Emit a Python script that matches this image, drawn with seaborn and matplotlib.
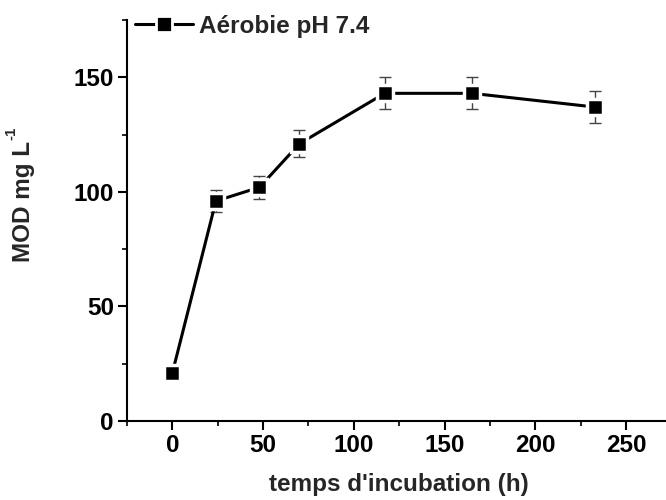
import matplotlib
matplotlib.use("Agg")
import matplotlib.pyplot as plt
import seaborn as sns
import pandas as pd
from matplotlib.ticker import MultipleLocator
from matplotlib.lines import Line2D

# Incubation time (h), DOM concentration (mg/L) and standard deviation
temps = [0, 24, 48, 70, 117, 165, 233]
mod = [21, 96, 102, 121, 143, 143, 137]
erreur = [0, 5, 5, 6, 7, 7, 7]
serie = "Aérobie pH 7.4"

df = pd.DataFrame({"temps": temps, "mod": mod, "err": erreur, "serie": serie})

sns.set_style("ticks")
plt.rcParams["font.family"] = ["Liberation Sans", "DejaVu Sans"]
plt.rcParams["font.weight"] = "bold"

FS = 17.5
W, H = 666, 500

fig = plt.figure(figsize=(W / 100, H / 100), dpi=100)
ax = fig.add_axes([127 / W, 79 / H, 1 - 127 / W, 401 / H])

ax.errorbar(df["temps"], df["mod"], yerr=df["err"], fmt="none",
            ecolor="#444444", elinewidth=1.0, capsize=4.5, capthick=1.0, zorder=2)

sns.lineplot(data=df, x="temps", y="mod", hue="serie", palette=["black"],
             marker="s", markersize=11.5, markeredgecolor="white",
             markeredgewidth=2.5, linewidth=2.2, ax=ax, zorder=3, legend=False)

ax.set_xlim(-25, 272)
ax.set_ylim(0, 175)
ax.xaxis.set_major_locator(MultipleLocator(50))
ax.xaxis.set_minor_locator(MultipleLocator(25))
ax.set_yticks([0, 50, 100, 150])
ax.yaxis.set_minor_locator(MultipleLocator(25))

sns.despine(ax=ax)
for s in ("left", "bottom"):
    ax.spines[s].set_linewidth(1.5)
    ax.spines[s].set_color("black")
ax.tick_params(which="major", direction="out", length=6.5, width=1.5,
               labelsize=FS, colors="black", pad=3)
ax.tick_params(which="minor", direction="out", length=3.5, width=1.2, colors="black")
for lab in ax.get_xticklabels() + ax.get_yticklabels():
    lab.set_fontweight("bold")

ax.set_xlabel("temps d'incubation (h)", fontsize=FS, fontweight="bold")
ax.xaxis.set_label_coords((399 - 127) / (W - 127), -(485 - 421) / 401)
ax.xaxis.label.set_va("center")
ax.set_ylabel("")

# y-axis title with a superscript exponent
ylab = fig.text(35 / W, 1 - 262 / H, "MOD mg L", rotation=90, fontsize=FS,
                fontweight="bold", ha="right", va="bottom")
fig.canvas.draw()
bb = ylab.get_window_extent()
fig.text((bb.x0 + 6) / W, (bb.y1 + 1) / H, "-1", rotation=90,
         fontsize=FS * 0.62, fontweight="bold", ha="right", va="bottom")

handle = Line2D([], [], color="black", linewidth=2.2, marker="s",
                markersize=11.5, markeredgecolor="white", markeredgewidth=2.0)
leg = ax.legend([handle], [serie], loc="upper left", frameon=False, fontsize=FS,
                handlelength=2.4, handletextpad=0.25, borderaxespad=0.0,
                borderpad=0.0, bbox_to_anchor=(135 / W, 1 - 15 / H),
                bbox_transform=fig.transFigure)
for t in leg.get_texts():
    t.set_fontweight("bold")

fig.savefig("out.png", dpi=100, facecolor="white")
